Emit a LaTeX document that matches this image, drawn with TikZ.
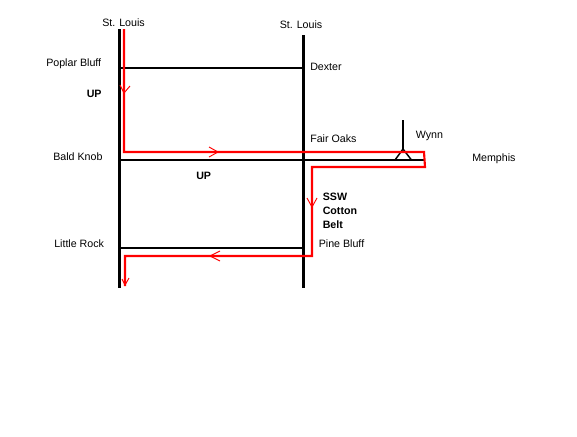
\documentclass[tikz,border=0pt]{standalone}
\usepackage{fontspec}
\setmainfont{Liberation Sans}
\tikzset{
  track/.style={draw=black,line width=1.6pt},
  route/.style={draw=red,line width=1.6pt,line join=miter},
  tick/.style={draw=red,line width=0.7pt},
  lbl/.style={font=\fontsize{8}{10}\selectfont,inner sep=0pt,anchor=west,text=black},
  blbl/.style={font=\fontsize{8}{10.5}\selectfont\bfseries,inner sep=0pt,text=black},
}
\begin{document}
\begin{tikzpicture}[x=0.75pt,y=-0.75pt]
\useasboundingbox[fill=white] (0,0) rectangle (577,436);
% track junctions
\coordinate (lt) at (119.5,29);
\coordinate (lb) at (119.5,288);
\coordinate (rt) at (303.5,35);
\coordinate (rb) at (303.5,288);
\coordinate (pbl) at (119.5,68);
\coordinate (pbr) at (303.5,68);
\coordinate (bkl) at (118,160);
\coordinate (bkr) at (425,160);
\coordinate (lrl) at (119.5,248);
\coordinate (lrr) at (305,248);
\coordinate (wt) at (403,120);
\coordinate (wm) at (403,149);
\coordinate (wl) at (395,160);
\coordinate (wr) at (411.5,160);
% route corners
\coordinate (r0) at (124,29);
\coordinate (r1) at (124,152);
\coordinate (r2) at (424,152);
\coordinate (r3) at (425,167);
\coordinate (r4) at (312,167);
\coordinate (r5) at (312,256);
\coordinate (r6) at (125,256);
\coordinate (r7) at (125,286);
% tracks
\draw[track] (lt) -- (lb);
\draw[track] (rt) -- (rb);
\draw[track] (pbl) -- (pbr);
\draw[track] (bkl) -- (bkr);
\draw[track] (lrl) -- (lrr);
\draw[track] (wt) -- (wm);
\draw[draw=black,line width=1.1pt] (wl) -- (wm) -- (wr);
% route
\draw[route] (r0) -- (r1) -- (r2) -- (r3) -- (r4) -- (r5) -- (r6) -- (r7);
% arrow ticks
\coordinate (a1) at (124,93);
\coordinate (a2) at (218,152);
\coordinate (a3) at (312,207);
\coordinate (a4) at (210,256);
\coordinate (a5) at (125,285);
\draw[tick] (120,85) -- (a1) -- (130,86);
\draw[tick] (209,147) -- (a2) -- (209,157);
\draw[tick] (307,198) -- (a3) -- (317,198);
\draw[tick] (220,251) -- (a4) -- (220,261);
\draw[tick] (122,279) -- (a5) -- (129,278);
% labels
\node[lbl] (n1) at (102,23) {St. Louis};
\node[lbl] (n2) at (279.5,25) {St. Louis};
\node[lbl] (n3) at (46,64) {Poplar Bluff};
\node[lbl] (n4) at (310,67) {Dexter};
\node[lbl] (n5) at (53,157) {Bald Knob};
\node[lbl] (n6) at (310,139) {Fair Oaks};
\node[lbl] (n7) at (415.5,136) {Wynn};
\node[lbl] (n8) at (472,159) {Memphis};
\node[lbl] (n9) at (54,244) {Little Rock};
\node[lbl] (n10) at (318.5,244) {Pine Bluff};
\node[blbl,anchor=west] (n11) at (86.5,93.5) {UP};
\node[blbl,anchor=west] (n12) at (196,176) {UP};
\node[blbl,anchor=north west,align=left] (n13) at (322.5,193) {SSW\\Cotton\\Belt};
\end{tikzpicture}
\end{document}
